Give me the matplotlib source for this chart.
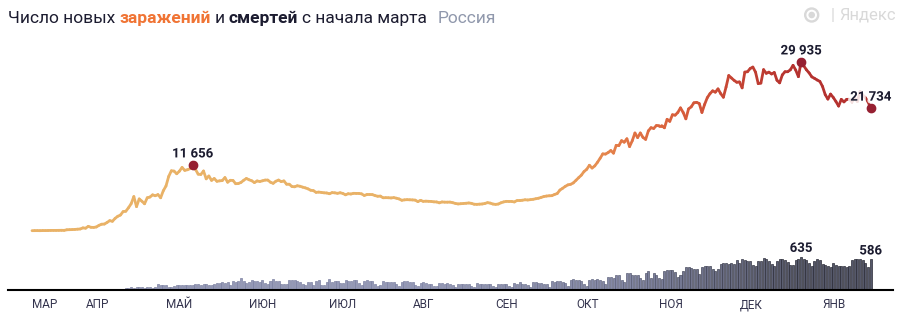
import numpy as np
import matplotlib
matplotlib.use('agg')
import matplotlib.pyplot as plt
import matplotlib.dates as mdates
import matplotlib.patheffects as pe
from matplotlib.collections import LineCollection
from matplotlib.colors import LinearSegmentedColormap
from matplotlib.patches import Circle

plt.rcParams['font.family'] = ['Roboto', 'DejaVu Sans']

# daily data, 2020-03-12 .. 2021-01-19
start_date = np.datetime64('2020-03-12')
end_date = np.datetime64('2021-01-20')

cases_mar = [6, 11, 14, 4, 30, 21, 33, 52, 54, 53, 61, 71, 57, 163, 182, 196, 228, 270, 302, 501]
cases_apr = [440, 771, 601, 582, 658, 954, 1154, 1175, 1459, 1786, 1667, 2186, 2558, 2774, 3388,
             3448, 4070, 4785, 6060, 4268, 5642, 5236, 4774, 5849, 5966, 6361, 6198, 6411, 5841, 7099]
cases_may = [7933, 9623, 10633, 10581, 10102, 10559, 11231, 10699, 10817, 11012, 11656, 10899, 10028,
             9974, 10598, 9200, 9709, 8926, 9263, 8764, 8849, 8894, 9434, 8599, 8946, 8915, 8338, 8371,
             8572, 8952, 9268]
cases_jun = [9035, 8863, 8536, 8831, 8726, 8855, 8984, 8985, 8595, 8404, 8779, 8987, 8706, 8835, 8246,
             8248, 7843, 7790, 7972, 7889, 7728, 7600, 7425, 7176, 7113, 6800, 6852, 6791, 6719, 6693]
cases_jul = [6556, 6760, 6718, 6632, 6736, 6611, 6368, 6562, 6509, 6635, 6611, 6615, 6537, 6248, 6422,
             6428, 6406, 6234, 6109, 6139, 5842, 5862, 5848, 5811, 5871, 5765, 5635, 5395, 5475, 5509, 5482]
cases_aug = [5462, 5427, 5159, 5394, 5204, 5241, 5212, 5189, 5118, 5102, 4945, 5102, 5065, 5061, 5076,
             4969, 4839, 4748, 4790, 4828, 4870, 4921, 4852, 4696, 4676, 4711, 4741, 4829, 4980, 4897, 4729]
cases_sep = [4670, 4729, 4952, 5110, 5205, 5185, 5195, 5099, 5363, 5363, 5406, 5488, 5449, 5509, 5572,
             5670, 5762, 5905, 6065, 6148, 6196, 6215, 6431, 6595, 7212, 7523, 7867, 8135, 8232, 8481]
cases_oct = [8945, 9412, 9859, 10499, 10888, 11615, 11115, 11493, 12126, 12846, 13634, 13592, 13868,
             14231, 13754, 15150, 15099, 15982, 15700, 16319, 14922, 15971, 17340, 16521, 17347, 16550,
             16202, 17717, 18283, 18140, 18665]
cases_nov = [18650, 18650, 18260, 19770, 19400, 20580, 20500, 20980, 21800, 20980, 19850, 21610, 21980,
             22700, 22780, 22570, 20980, 22410, 23610, 24320, 24820, 24580, 25170, 24330, 23680, 25490,
             27540, 27100, 26680, 26340]
cases_dec = [26402, 25345, 28145, 28209, 28782, 29039, 28142, 26097, 26190, 28585, 27927, 28137, 27808,
             28080, 26689, 26236, 27654, 28214, 28209, 28552, 29350, 28500, 27330, 29935, 29258, 28552,
             28000, 27300, 27040, 26740, 26500]
cases_jan = [25600, 24150, 23351, 24246, 23652, 22934, 22113, 23309, 22851, 23307, 23315, 22857, 23541,
             22906, 24715, 24092, 23586, 22857, 21734]

deaths_mar = [0, 0, 0, 0, 0, 0, 0, 1, 0, 0, 0, 0, 1, 1, 0, 1, 4, 1, 8, 2]
deaths_apr = [7, 9, 4, 9, 2, 11, 2, 13, 18, 18, 12, 22, 24, 18, 28, 34, 41, 48, 42, 50, 51, 57, 42, 60,
              66, 47, 50, 108, 101, 93]
deaths_may = [96, 57, 58, 76, 95, 86, 88, 98, 104, 88, 94, 107, 107, 96, 113, 119, 94, 91, 115, 135, 127,
              150, 139, 153, 92, 174, 161, 174, 232, 181, 138]
deaths_jun = [162, 182, 178, 169, 144, 197, 134, 112, 171, 216, 174, 181, 119, 113, 119, 193, 194, 182,
              181, 161, 109, 95, 153, 154, 92, 176, 188, 104, 93, 154]
deaths_jul = [216, 147, 176, 168, 135, 134, 198, 173, 174, 188, 188, 130, 95, 175, 191, 175, 179, 119,
              85, 95, 165, 150, 154, 146, 147, 106, 85, 147, 169, 165, 154]
deaths_aug = [144, 95, 70, 129, 144, 129, 119, 114, 77, 70, 130, 129, 123, 124, 114, 98, 60, 109, 114,
              121, 123, 110, 70, 56, 130, 123, 119, 113, 121, 110, 68]
deaths_sep = [57, 110, 112, 122, 117, 79, 55, 129, 122, 150, 119, 115, 86, 57, 145, 150, 143, 135, 121,
              106, 65, 171, 160, 169, 170, 160, 134, 76, 186, 201]
deaths_oct = [186, 185, 169, 117, 77, 198, 202, 197, 201, 186, 174, 122, 244, 239, 232, 286, 279, 184,
              150, 317, 317, 286, 283, 278, 229, 192, 320, 366, 229, 320, 282]
deaths_nov = [238, 214, 363, 389, 378, 386, 346, 256, 286, 368, 432, 439, 411, 391, 395, 296, 442, 456,
              463, 467, 401, 361, 401, 491, 507, 524, 496, 510, 491, 569]
deaths_dec = [508, 589, 569, 554, 556, 475, 449, 561, 562, 613, 597, 555, 489, 456, 560, 585, 589, 563,
              525, 480, 476, 565, 585, 635, 597, 567, 510, 456, 562, 583, 577]
deaths_jan = [491, 477, 465, 439, 512, 470, 456, 465, 466, 446, 450, 571, 592, 589, 582, 563, 512, 442, 586]

month_labels = ['МАР', 'АПР', 'МАЙ', 'ИЮН', 'ИЮЛ', 'АВГ', 'СЕН', 'ОКТ', 'НОЯ', 'ДЕК', 'ЯНВ']

cases = np.array(cases_mar + cases_apr + cases_may + cases_jun + cases_jul + cases_aug
                 + cases_sep + cases_oct + cases_nov + cases_dec + cases_jan, dtype=float)
deaths = np.array(deaths_mar + deaths_apr + deaths_may + deaths_jun + deaths_jul + deaths_aug
                  + deaths_sep + deaths_oct + deaths_nov + deaths_dec + deaths_jan, dtype=float)
dates = np.arange(start_date, end_date).astype('datetime64[D]')
xd = mdates.date2num(dates)

fig = plt.figure(figsize=(9, 3.12), dpi=100)
box = [8 / 900, 1 - 290 / 312, 885 / 900, 250 / 312]
ax_bar = fig.add_axes(box)
ax = fig.add_axes(box, sharex=ax_bar)
ax.patch.set_visible(False)

x0 = xd[0]
xlim = (x0 - 8.96, x0 + 321.3)

# deaths bars
bar_cmap = LinearSegmentedColormap.from_list('b', ['#9599b7', '#8387a5', '#55586a'])
bar_cols = bar_cmap(np.clip((np.arange(len(deaths)) - 150) / 140, 0, 1))
edge_cmap = LinearSegmentedColormap.from_list('e', ['#7d82a2', '#62667f', '#2a2b36'])
edge_cols = edge_cmap(np.clip((np.arange(len(deaths)) - 150) / 130, 0, 1))
ax_bar.bar(xd, deaths, width=0.75, color=bar_cols, edgecolor=edge_cols, linewidth=0.5)
ax_bar.set_ylim(0, 4767)
ax_bar.set_xlim(*xlim)

# cases line with gradient
stops = [(0, '#e9b267'), (185, '#e9b267'), (205, '#e89a58'), (220, '#e27846'),
         (245, '#d65a3a'), (262, '#c54434'), (285, '#b5322f'), (313, '#b5322f')]
cmap = LinearSegmentedColormap.from_list('g', [(s / 313, c) for s, c in stops])
pts = np.column_stack([xd, cases]).reshape(-1, 1, 2)
segs = np.concatenate([pts[:-1], pts[1:]], axis=1)
lc = LineCollection(segs, colors=cmap(np.arange(len(segs)) / 313), linewidth=2.0,
                    capstyle='round', joinstyle='round')
ax.add_collection(lc)
ax.set_ylim(-10524, 33842)
ax.set_xlim(*xlim)

dark = '#1c1c30'
halo = [pe.withStroke(linewidth=4, foreground='white', alpha=0.85)]
for i in [int(np.argmax(cases[:100])), int(np.argmax(cases)), len(cases) - 1]:
    ax.plot(xd[i], cases[i], 'o', color='#962032', markersize=6, zorder=5)
    ax.annotate(f'{int(cases[i]):,}'.replace(',', ' '), (xd[i], cases[i]), xytext=(0, 8),
                textcoords='offset points', ha='center', va='center', fontsize=9.5,
                fontweight='bold', color=dark, path_effects=halo, zorder=6)
for i in [int(np.argmax(deaths)), len(deaths) - 1]:
    ax_bar.annotate(f'{int(deaths[i])}', (xd[i], deaths[i]), xytext=(0, 6),
                    textcoords='offset points', ha='center', va='center', fontsize=9.5,
                    fontweight='bold', color=dark, path_effects=halo, zorder=6)

for a in (ax, ax_bar):
    for s in a.spines.values():
        s.set_visible(False)
    a.set_yticks([])
    a.tick_params(axis='x', length=0)
ax_bar.spines['bottom'].set_visible(True)
ax_bar.spines['bottom'].set_color('black')
ax_bar.spines['bottom'].set_linewidth(1.5)

month_starts = [start_date] + [np.datetime64(m) for m in
                ['2020-04-01', '2020-05-01', '2020-06-01', '2020-07-01', '2020-08-01',
                 '2020-09-01', '2020-10-01', '2020-11-01', '2020-12-01', '2021-01-01']]
ax.tick_params(axis='x', labelbottom=False)
ax_bar.set_xticks(mdates.date2num(np.array(month_starts, dtype='datetime64[D]')))
ax_bar.set_xticklabels(month_labels, fontsize=8.5, color='#34344e', ha='left')
ax_bar.tick_params(axis='x', pad=6)

# title
fig.canvas.draw()
r = fig.canvas.get_renderer()
parts = [('Число новых', 'normal', dark), ('заражений', 'bold', '#f07434'), ('и', 'normal', dark),
         ('смертей', 'bold', dark), ('с начала марта', 'normal', dark), ('Россия', 'normal', '#9098ac')]
gaps = [4, 4, 4, 4, 11, 0]
xpix = 8
for (txt, w, c), g in zip(parts, gaps):
    t = fig.text(xpix / 900, 1 - 22.7 / 312, txt, fontsize=12.5, fontweight=w, color=c,
                 va='baseline', ha='left')
    xpix += t.get_window_extent(r).width + g

# logo
lc_col = '#d9d9d9'
for rad, col in [(7, lc_col), (4.6, 'white'), (2.6, lc_col)]:
    fig.patches.append(Circle((8.117, (312 - 15) / 100), rad / 100, color=col,
                              transform=fig.dpi_scale_trans))
fig.text(833 / 900, 1 - 15 / 312, '|', fontsize=12, color=lc_col, ha='center', va='center')
fig.text(839 / 900, 1 - 15 / 312, 'Яндекс', fontsize=12, color=lc_col, ha='left', va='center')

fig.savefig('out.png', dpi=100)
